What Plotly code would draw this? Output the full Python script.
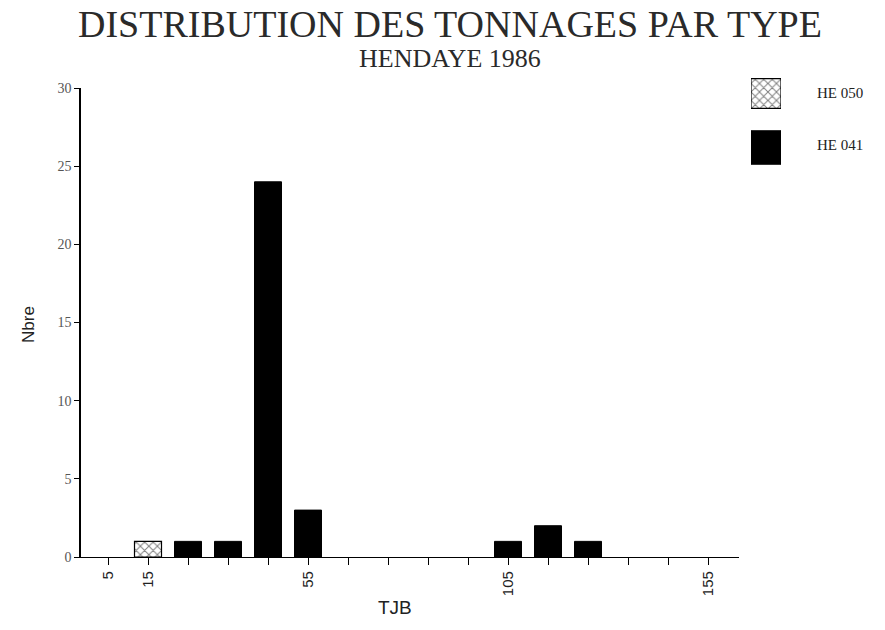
import plotly.graph_objects as go

# --- data -------------------------------------------------------------
tjb_classes = [5, 15, 25, 35, 45, 55, 65, 75, 85, 95, 105, 115, 125, 135, 145, 155]
tick_labels = {5: "5", 15: "15", 55: "55", 105: "105", 155: "155"}
series_names = ["HE 050", "HE 041"]
he050_tjb = [15]
he050_nbre = [1]
he041_tjb = [25, 35, 45, 55, 105, 115, 125]
he041_nbre = [1, 1, 24, 3, 1, 2, 1]
y_ticks = [0, 5, 10, 15, 20, 25, 30]

# --- page geometry helpers (pixels -> paper fractions) ----------------
W, H = 885, 630
ML, MR, MT, MB = 81, 10, 50, 73
PW, PH = W - ML - MR, H - MT - MB


def xp(px):
    return (px - ML) / PW


def yp(py):
    return (H - MB - py) / PH


serif = "Liberation Serif"
sans = "Liberation Sans"

hatch = dict(color="white", line=dict(color="black", width=1.2),
             pattern=dict(shape="x", fgcolor="black", bgcolor="white",
                          size=6, solidity=0.3))
solid = dict(color="black", line=dict(color="black", width=1))

fig = go.Figure()

# main bars
fig.add_trace(go.Bar(x=he050_tjb, y=he050_nbre, width=6.75, name=series_names[0],
                     marker=hatch, showlegend=False))
fig.add_trace(go.Bar(x=he041_tjb, y=he041_nbre, width=6.75, name=series_names[1],
                     marker=solid, showlegend=False))

# legend swatches on a small inset axis
fig.add_trace(go.Bar(x=[1], y=[series_names[0]], orientation="h", width=0.55,
                     marker=hatch, xaxis="x2", yaxis="y2", showlegend=False,
                     hoverinfo="skip"))
fig.add_trace(go.Bar(x=[1], y=[series_names[1]], orientation="h", width=0.62,
                     marker=solid, xaxis="x2", yaxis="y2", showlegend=False,
                     hoverinfo="skip"))

annotations = [
    dict(text="DISTRIBUTION DES TONNAGES PAR TYPE", x=xp(450), y=yp(24),
         font=dict(family=serif, size=38, color="#2a2a2a")),
    dict(text="HENDAYE 1986", x=xp(450), y=yp(59),
         font=dict(family=serif, size=26, color="#2a2a2a")),
    dict(text="TJB", x=xp(395), y=yp(607),
         font=dict(family=sans, size=19, color="#222")),
    dict(text="Nbre", x=xp(28), y=yp(325), textangle=-90,
         font=dict(family=sans, size=17, color="#222")),
]
for name, py in zip(series_names, [93, 145]):
    annotations.append(dict(text=name, x=xp(815), y=yp(py), xanchor="left",
                            font=dict(family=serif, size=15, color="#222")))
for a in annotations:
    a.update(xref="paper", yref="paper", showarrow=False)
    a.setdefault("xanchor", "center")
    a.setdefault("yanchor", "middle")

fig.update_layout(
    width=W, height=H,
    margin=dict(l=ML, r=MR, t=MT, b=MB),
    paper_bgcolor="white", plot_bgcolor="white",
    barmode="overlay",
    annotations=annotations,
    xaxis=dict(
        domain=[0, xp(739)], range=[-1.75, 162.75],
        tickvals=tjb_classes,
        ticktext=[tick_labels.get(v, "") for v in tjb_classes],
        tickangle=-90, ticks="outside", ticklen=7, tickcolor="black",
        showline=True, linecolor="black", linewidth=1.2,
        showgrid=False, zeroline=False,
        tickfont=dict(family=sans, size=15, color="#222"),
    ),
    yaxis=dict(
        domain=[0, yp(88)], range=[0, 30],
        tickvals=y_ticks, ticks="outside", ticklen=5, tickcolor="black",
        showline=True, linecolor="black", linewidth=1.5,
        showgrid=False, zeroline=False,
        tickfont=dict(family=serif, size=14, color="#555"),
    ),
    xaxis2=dict(domain=[xp(751), xp(781)], range=[0, 1], visible=False,
                anchor="y2", fixedrange=True),
    yaxis2=dict(domain=[yp(174.5), yp(66.5)], type="category",
                categoryorder="array", categoryarray=series_names[::-1],
                visible=False, anchor="x2", fixedrange=True),
)

fig.write_html("out.html")
